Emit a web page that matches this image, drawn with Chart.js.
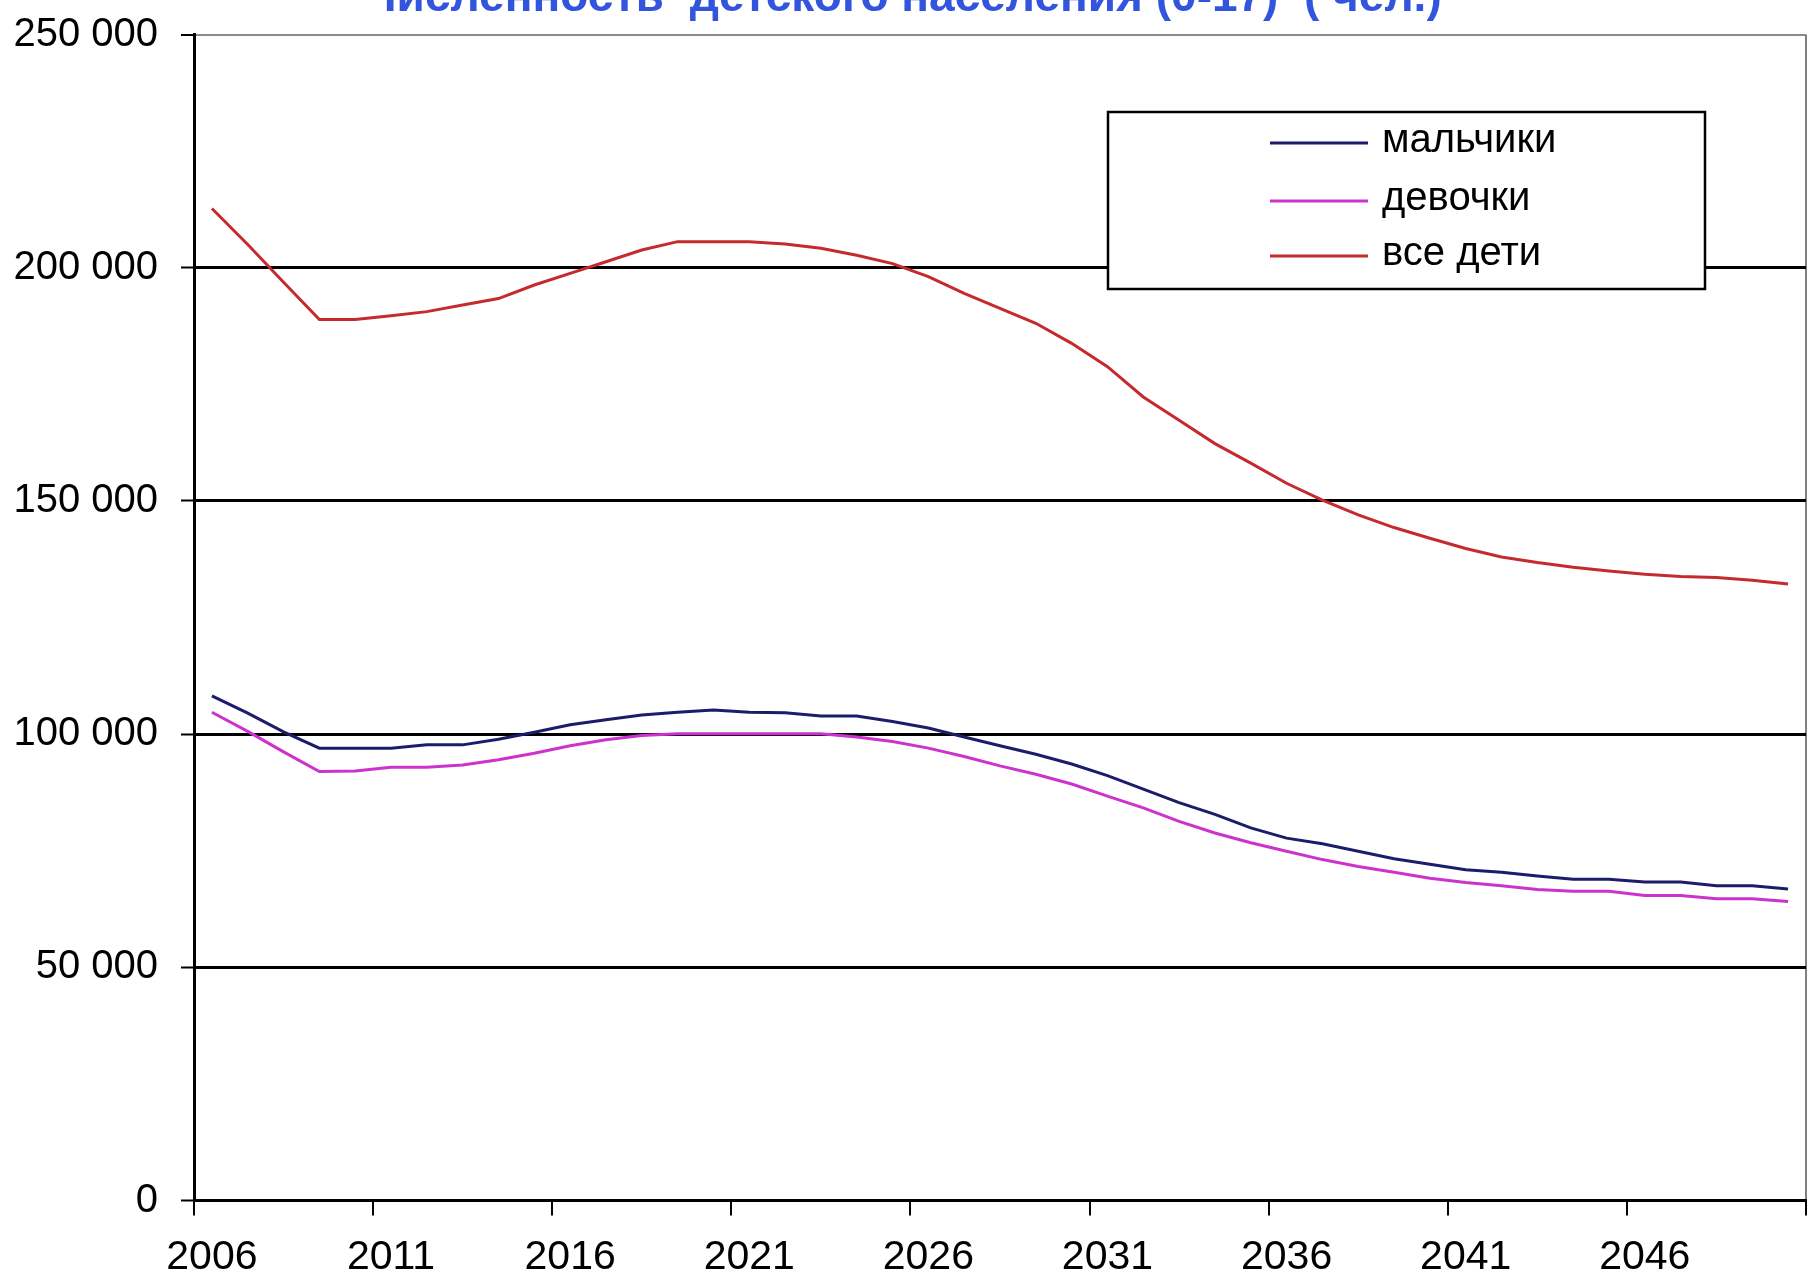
<!DOCTYPE html>
<html>
<head>
<meta charset="utf-8">
<script src="https://cdn.jsdelivr.net/npm/chart.js@4.4.1/dist/chart.umd.min.js"></script>
<style>
  html, body { margin: 0; padding: 0; background: #fff; overflow: hidden; }
  /* the title of the original is cut off at the top, so the canvas starts above the page */
  #wrap { position: absolute; left: 0; top: -29px; width: 1810px; height: 1309px; }
</style>
</head>
<body>
<div id="wrap"><canvas id="myChart"></canvas></div>
<script>
const years = [
  "2006", "2007", "2008", "2009", "2010", "2011", "2012", "2013", "2014", "2015",
  "2016", "2017", "2018", "2019", "2020", "2021", "2022", "2023", "2024", "2025",
  "2026", "2027", "2028", "2029", "2030", "2031", "2032", "2033", "2034", "2035",
  "2036", "2037", "2038", "2039", "2040", "2041", "2042", "2043", "2044", "2045",
  "2046", "2047", "2048", "2049", "2050",
];

const boys = [
  108200, 104500, 100500, 97000, 97000, 97000, 97700, 97700, 98900, 100400,
  102000, 103100, 104100, 104700, 105200, 104700, 104600, 103900, 103900, 102700,
  101300, 99400, 97500, 95700, 93600, 91100, 88200, 85300, 82800, 79900,
  77700, 76500, 74900, 73300, 72100, 70900, 70400, 69600, 68900, 68900,
  68300, 68300, 67500, 67500, 66800,
];

const girls = [
  104700, 100600, 96200, 92000, 92100, 92900, 92900, 93400, 94500, 95900,
  97500, 98800, 99700, 100100, 100100, 100100, 100100, 100100, 99400, 98400,
  97000, 95200, 93200, 91400, 89300, 86700, 84200, 81300, 78800, 76700,
  74900, 73100, 71600, 70400, 69100, 68200, 67500, 66700, 66300, 66300,
  65400, 65400, 64700, 64700, 64100,
];

const allChildren = [
  212700, 205000, 196900, 188900, 188900, 189700, 190600, 192000, 193400, 196300,
  198800, 201300, 203800, 205600, 205600, 205600, 205100, 204200, 202700, 200900,
  198100, 194500, 191300, 188100, 183800, 178800, 172300, 167300, 162300, 158100,
  153800, 150200, 147000, 144300, 142000, 139800, 138000, 136800, 135800, 135000,
  134300, 133800, 133600, 133000, 132200,
];

const seriesNames = ["мальчики", "девочки", "все дети"];
const seriesColors = ["#1c1c6a", "#cc33cc", "#c42a2e"];

const sans = "'Liberation Sans', Arial, sans-serif";

// boxed legend inside the plot, like the original
const boxLegend = {
  id: "boxLegend",
  afterDraw(chart) {
    const ctx = chart.ctx;
    const left = 1108, top = 141, right = 1705, bottom = 318;
    const rows = [172, 230, 285];
    ctx.save();
    ctx.fillStyle = "#fff";
    ctx.fillRect(left, top, right - left, bottom - top);
    ctx.strokeStyle = "#000";
    ctx.lineWidth = 2.5;
    ctx.strokeRect(left, top, right - left, bottom - top);
    ctx.font = "40px " + sans;
    ctx.textBaseline = "middle";
    chart.data.datasets.forEach((ds, i) => {
      ctx.strokeStyle = ds.borderColor;
      ctx.lineWidth = 3;
      ctx.beginPath();
      ctx.moveTo(1270, rows[i]);
      ctx.lineTo(1368, rows[i]);
      ctx.stroke();
      ctx.fillStyle = "#000";
      ctx.fillText(ds.label, 1382, rows[i] - 2);
    });
    ctx.restore();
  },
};

const data = {
  labels: years,
  datasets: [
    { label: seriesNames[0], data: boys, borderColor: seriesColors[0] },
    { label: seriesNames[1], data: girls, borderColor: seriesColors[1] },
    { label: seriesNames[2], data: allChildren, borderColor: seriesColors[2] },
  ],
};

const config = {
  type: "line",
  data: data,
  options: {
    responsive: true,
    maintainAspectRatio: false,
    animation: false,
    devicePixelRatio: 1,
    layout: { padding: { right: 4 } },
    elements: {
      line: { borderWidth: 3, tension: 0, fill: false },
      point: { radius: 0 },
    },
    plugins: {
      legend: { display: false },
      tooltip: { enabled: false },
      title: {
        display: true,
        text: "Численность  детского населения (0-17)  ( чел.)",
        color: "#3355dd",
        font: { family: sans, size: 46, weight: "bold" },
        padding: { top: 0, bottom: 8.4 },
      },
    },
    scales: {
      x: {
        offset: true,
        afterFit: (scale) => { scale.height = 79.5; },
        grid: {
          offset: true,
          color: (c) => (c.type === "scale" ? "#808080" : "rgba(0,0,0,0)"),
          lineWidth: 2,
          tickColor: (c) => (c.index === undefined || c.index % 5 === 0 ? "#000" : "rgba(0,0,0,0)"),
          tickLength: 15,
          tickWidth: 2,
        },
        border: { color: "#000", width: 3 },
        ticks: {
          autoSkip: false,
          maxRotation: 0,
          padding: 18,
          color: "#000",
          font: { family: sans, size: 41 },
          callback: function (v, i) {
            return i % 5 === 0 ? this.getLabelForValue(v) : "";
          },
        },
      },
      y: {
        min: 0,
        max: 250000,
        afterFit: (scale) => { scale.width = 194; },
        grid: {
          color: (c) => (c.tick && c.tick.value === 250000 ? "#8a8a8a" : "#000"),
          lineWidth: (c) => (c.tick && c.tick.value === 250000 ? 2 : 3),
          tickColor: "#000",
          tickLength: 13,
          tickWidth: 2,
        },
        border: { color: "#000", width: 3 },
        ticks: {
          stepSize: 50000,
          padding: 23,
          color: "#000",
          font: { family: sans, size: 40 },
          callback: (v) => String(v).replace(/\B(?=(\d{3})+(?!\d))/g, " "),
        },
      },
    },
  },
  plugins: [boxLegend],
};

const myChart = new Chart(document.getElementById("myChart"), config);
</script>
</body>
</html>
